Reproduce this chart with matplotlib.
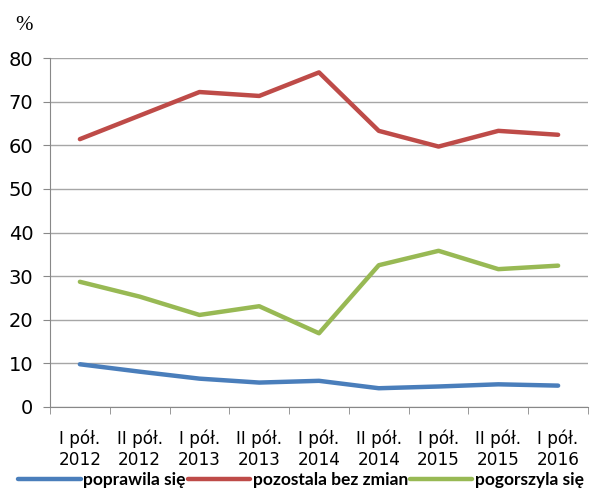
import matplotlib
matplotlib.use("Agg")
import matplotlib.pyplot as plt
import numpy as np

periods = ["I pół.\n2012", "II pół.\n2012", "I pół.\n2013", "II pół.\n2013", "I pół.\n2014",
           "II pół.\n2014", "I pół.\n2015", "II pół.\n2015", "I pół.\n2016"]
poprawila = [9.8, 8.1, 6.5, 5.6, 6.0, 4.3, 4.7, 5.2, 4.9]
bez_zmian = [61.4, 66.8, 72.2, 71.3, 76.7, 63.3, 59.7, 63.3, 62.4]
pogorszyla = [28.7, 25.3, 21.1, 23.1, 16.9, 32.5, 35.8, 31.6, 32.4]
labels = ["poprawila się", "pozostala bez zmian", "pogorszyla się"]
colors = ["#4a7ebb", "#be4b48", "#98b954"]

fig = plt.figure(figsize=(5.96, 4.91), dpi=100)
ax = fig.add_axes([50 / 596, 84 / 491, 538 / 596, 349 / 491])

x = np.arange(len(periods))
for vals, lab, col in zip([poprawila, bez_zmian, pogorszyla], labels, colors):
    ax.plot(x, vals, color=col, lw=3.2, label=lab, solid_capstyle="round")

ax.set_xlim(-0.5, len(periods) - 0.5)
ax.set_ylim(0, 80)
ax.set_yticks(range(0, 81, 10))
ax.yaxis.grid(True, color="#a6a6a6", lw=1)
ax.set_axisbelow(True)

ax.set_xticks(x)
ax.set_xticklabels(periods, fontsize=12.2, fontfamily="DejaVu Sans", linespacing=1.25)
ax.set_xticks(np.arange(-0.5, len(periods)), minor=True)
ax.tick_params(axis="x", which="major", length=0, pad=16)
ax.tick_params(axis="x", which="minor", length=5, color="#888888", direction="out")
ax.tick_params(axis="y", length=5, color="#888888", labelsize=14, pad=7)

for s in ["top", "right"]:
    ax.spines[s].set_visible(False)
for s in ["left", "bottom"]:
    ax.spines[s].set_color("#888888")

fig.text(15 / 596, 1 - 25 / 491, "%", fontsize=15, va="center", fontfamily="Liberation Serif")

fig.legend(loc="lower center", bbox_to_anchor=(0.505, -0.025), ncol=3, frameon=False,
           handlelength=3.6, handletextpad=0.15, columnspacing=0.1,
           prop={"family": "Lato", "size": 12.5, "weight": "bold"})

fig.savefig("out.png", dpi=100)
